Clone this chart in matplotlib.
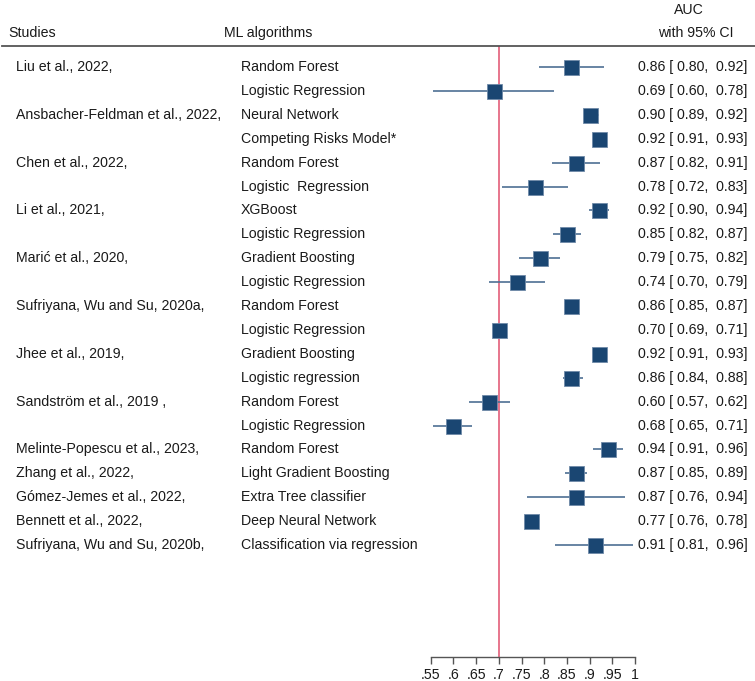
import matplotlib
matplotlib.use("Agg")
import matplotlib.pyplot as plt
from matplotlib.transforms import blended_transform_factory
from matplotlib.lines import Line2D

plt.rcParams['font.family'] = ['Liberation Sans', 'DejaVu Sans']

studies = ["Liu et al., 2022,", "", "Ansbacher-Feldman et al., 2022,", "",
           "Chen et al., 2022,", "", "Li et al., 2021,", "",
           "Marić et al., 2020,", "", "Sufriyana, Wu and Su, 2020a,", "",
           "Jhee et al., 2019,", "", "Sandström et al., 2019 ,", "",
           "Melinte-Popescu et al., 2023,", "Zhang et al., 2022,",
           "Gómez-Jemes et al., 2022,", "Bennett et al., 2022,",
           "Sufriyana, Wu and Su, 2020b,"]

algorithms = ["Random Forest", "Logistic Regression", "Neural Network",
              "Competing Risks Model*", "Random Forest", "Logistic  Regression",
              "XGBoost", "Logistic Regression", "Gradient Boosting",
              "Logistic Regression", "Random Forest", "Logistic Regression",
              "Gradient Boosting", "Logistic regression", "Random Forest",
              "Logistic Regression", "Random Forest", "Light Gradient Boosting",
              "Extra Tree classifier", "Deep Neural Network",
              "Classification via regression"]

# reported AUC with 95% CI (text column)
auc_reported = [0.86, 0.69, 0.90, 0.92, 0.87, 0.78, 0.92, 0.85, 0.79, 0.74,
                0.86, 0.70, 0.92, 0.86, 0.60, 0.68, 0.94, 0.87, 0.87, 0.77, 0.91]
lo_reported = [0.80, 0.60, 0.89, 0.91, 0.82, 0.72, 0.90, 0.82, 0.75, 0.70,
               0.85, 0.69, 0.91, 0.84, 0.57, 0.65, 0.91, 0.85, 0.76, 0.76, 0.81]
hi_reported = [0.92, 0.78, 0.92, 0.93, 0.91, 0.83, 0.94, 0.87, 0.82, 0.79,
               0.87, 0.71, 0.93, 0.88, 0.62, 0.71, 0.96, 0.89, 0.94, 0.78, 0.96]

# plotted markers and whiskers (as drawn in the chart)
est_plot = [0.860, 0.689, 0.901, 0.921, 0.870, 0.780, 0.921, 0.850, 0.791, 0.739,
            0.860, 0.700, 0.921, 0.860, 0.679, 0.600, 0.941, 0.871, 0.871, 0.770, 0.911]
lo_plot = [0.789, 0.556, 0.890, 0.910, 0.817, 0.708, 0.899, 0.820, 0.745, 0.678,
           0.850, 0.690, 0.910, 0.842, 0.635, 0.556, 0.907, 0.846, 0.763, 0.760, 0.824]
hi_plot = [0.932, 0.822, 0.920, 0.930, 0.924, 0.852, 0.943, 0.881, 0.835, 0.802,
           0.870, 0.710, 0.930, 0.885, 0.725, 0.642, 0.974, 0.894, 0.978, 0.780, 0.996]

xticks = [0.55, 0.6, 0.65, 0.7, 0.75, 0.8, 0.85, 0.9, 0.95, 1.0]
xticklabels = [".55", ".6", ".65", ".7", ".75", ".8", ".85", ".9", ".95", "1"]
ref_line = 0.7

W, H = 755, 681
fig = plt.figure(figsize=(W / 100, H / 100), dpi=100)
ax_l, ax_r = 430.7, 635.0
ax_top, ax_bot = 46.0, 657.0
ax = fig.add_axes([ax_l / W, 1 - ax_bot / H, (ax_r - ax_l) / W, (ax_bot - ax_top) / H])

row0, step = 67.0, 23.9
ax.set_xlim(0.55, 1.0)
ax.set_ylim((ax_bot - row0) / step, (ax_top - row0) / step)

navy = '#1a4672'
whisk = '#4e6f94'
txt = '#1a1a1a'
fs = 10.2

ys = list(range(len(algorithms)))
ax.axvline(ref_line, color='#e0506e', lw=1.1, zorder=1)
ax.hlines(ys, lo_plot, hi_plot, color=whisk, lw=1.2, zorder=2)
ax.plot(est_plot, ys, 's', ms=10.8, mfc=navy, mec='#6f8aa8', mew=0.6,
        ls='none', zorder=3)

for s in ['left', 'top', 'right']:
    ax.spines[s].set_visible(False)
ax.spines['bottom'].set_color('#555555')
ax.spines['bottom'].set_linewidth(1.0)
ax.set_yticks([])
ax.set_xticks(xticks)
ax.set_xticklabels(xticklabels, fontsize=fs, color=txt)
ax.tick_params(axis='x', length=5, width=1.0, color='#555555', pad=3)

tr = blended_transform_factory(fig.transFigure, ax.transData)
for i in ys:
    if studies[i]:
        ax.text(16 / W, i, studies[i], transform=tr, fontsize=fs, color=txt,
                ha='left', va='center', clip_on=False)
    ax.text(241 / W, i, algorithms[i], transform=tr, fontsize=fs, color=txt,
            ha='left', va='center', clip_on=False)
    lab = f"{auc_reported[i]:.2f} [ {lo_reported[i]:.2f},  {hi_reported[i]:.2f}]"
    ax.text(638 / W, i, lab, transform=tr, fontsize=fs, color=txt,
            ha='left', va='center', clip_on=False)

# headers
fig.text(8 / W, 1 - 33 / H, "Studies", fontsize=fs, color=txt, ha='left', va='center')
fig.text(224 / W, 1 - 33 / H, "ML algorithms", fontsize=fs, color=txt, ha='left', va='center')
fig.text(689 / W, 1 - 10 / H, "AUC", fontsize=fs, color=txt, ha='center', va='center')
fig.text(696 / W, 1 - 33 / H, "with 95% CI", fontsize=fs, color=txt, ha='center', va='center')
fig.add_artist(Line2D([2 / W, 1.0], [1 - 46 / H, 1 - 46 / H], color='#555555', lw=1.3,
                      transform=fig.transFigure))

fig.savefig("out.png", dpi=100)
